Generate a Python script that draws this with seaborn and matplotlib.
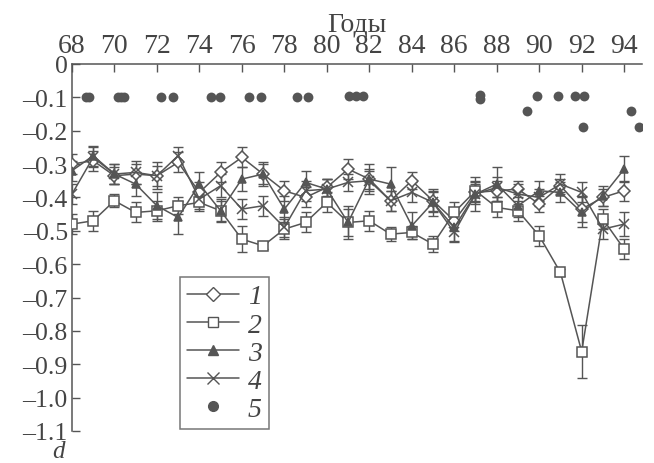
import numpy as np
import pandas as pd
import matplotlib
matplotlib.use("Agg")
import matplotlib.pyplot as plt
import seaborn as sns
from matplotlib.lines import Line2D

years = list(range(68, 95))
s1 = [-0.30, -0.29, -0.335, -0.33, -0.335, -0.295, -0.385, -0.325, -0.28, -0.33, -0.38, -0.40, -0.37, -0.315,
      -0.345, -0.41, -0.35, -0.41, -0.47, -0.385, -0.38, -0.375, -0.42, -0.365, -0.435, -0.40, -0.38]
s2 = [-0.48, -0.47, -0.41, -0.445, -0.44, -0.425, -0.415, -0.44, -0.525, -0.545, -0.495, -0.475, -0.415, -0.475,
      -0.47, -0.51, -0.505, -0.54, -0.445, -0.38, -0.43, -0.44, -0.515, -0.625, -0.862, -0.465, -0.555]
s3 = [-0.32, -0.275, -0.33, -0.36, -0.425, -0.46, -0.36, -0.44, -0.345, -0.33, -0.435, -0.355, -0.375, -0.475,
      -0.345, -0.36, -0.485, -0.415, -0.49, -0.39, -0.36, -0.425, -0.38, -0.385, -0.445, -0.395, -0.315]
s4 = [-0.39, -0.28, -0.33, -0.325, -0.335, -0.275, -0.405, -0.365, -0.435, -0.425, -0.49, -0.38, -0.375, -0.355,
      -0.35, -0.41, -0.385, -0.415, -0.505, -0.39, -0.37, -0.39, -0.40, -0.36, -0.385, -0.495, -0.48]
e1 = [0.03, 0.03, 0.025, 0.03, 0.03, 0.03, 0.03, 0.03, 0.03, 0.03, 0.03, 0.03, 0.025, 0.03,
      0.03, 0.03, 0.025, 0.03, 0.03, 0.03, 0.03, 0.025, 0.025, 0.02, 0.04, 0.025, 0.03]
e2 = [0.03, 0.03, 0.02, 0.03, 0.03, 0.025, 0.025, 0.03, 0.04, 0.01, 0.03, 0.03, 0.03, 0.04,
      0.03, 0.02, 0.02, 0.025, 0.03, 0.03, 0.03, 0.03, 0.03, 0.01, 0.08, 0.03, 0.03]
e3 = [0.03, 0.03, 0.03, 0.035, 0.04, 0.05, 0.035, 0.035, 0.035, 0.035, 0.04, 0.035, 0.03, 0.05,
      0.045, 0.05, 0.04, 0.04, 0.04, 0.05, 0.05, 0.035, 0.03, 0.03, 0.045, 0.03, 0.04]
e4 = [0.03, 0.03, 0.03, 0.035, 0.04, 0.025, 0.03, 0.035, 0.03, 0.03, 0.03, 0.03, 0.03, 0.025,
      0.03, 0.03, 0.03, 0.03, 0.03, 0.03, 0.03, 0.03, 0.025, 0.03, 0.03, 0.03, 0.035]
s5_x = [68.67, 68.8, 70.18, 70.32, 70.45, 72.2, 72.76, 74.55, 74.97, 76.33, 76.9, 78.59, 79.1,
        81.03, 81.36, 81.69, 87.2, 87.2, 89.43, 89.9, 90.89, 91.7, 92.12, 92.04, 94.33, 94.72]
s5_y = [-0.1, -0.1, -0.1, -0.1, -0.1, -0.1, -0.1, -0.1, -0.1, -0.1, -0.1, -0.1, -0.1,
        -0.097, -0.097, -0.097, -0.093, -0.105, -0.14, -0.095, -0.095, -0.095, -0.095, -0.19, -0.14, -0.19]
x_ticks = list(range(68, 95, 2))
y_ticks = [0, -0.1, -0.2, -0.3, -0.4, -0.5, -0.6, -0.7, -0.8, -0.9, -1.0, -1.1]
y_labels = ["0", "–0.1", "–0.2", "–0.3", "–0.4", "–0.5", "–0.6", "–0.7", "–0.8", "–0.9", "–1.0", "–1.1"]
legend_labels = ["1", "2", "3", "4", "5"]

sns.set_style("ticks")
SERIF = ["Liberation Serif", "DejaVu Serif"]
plt.rcParams["font.family"] = SERIF
GRAY = "#555555"
TXT = "#444444"

fig = plt.figure(figsize=(6.54, 4.64), dpi=100)
ax = fig.add_axes([0.110, 0.069, 0.872, 0.791])

series = [(s1, e1, "D", "white", 6), (s2, e2, "s", "white", 7), (s3, e3, "^", GRAY, 6), (s4, e4, "x", GRAY, 7)]
for vals, errs, mk, fc, ms in series:
    ax.errorbar(years, vals, yerr=errs, fmt="none", ecolor=GRAY, elinewidth=1.0, capsize=3.5, capthick=1.0, zorder=2)
    df = pd.DataFrame({"year": years, "v": vals})
    sns.lineplot(data=df, x="year", y="v", ax=ax, color=GRAY, linewidth=1.1, marker=mk,
                 markersize=ms, markerfacecolor=fc, markeredgecolor=GRAY, markeredgewidth=1.1, zorder=3)

df5 = pd.DataFrame({"x": s5_x, "y": s5_y})
sns.scatterplot(data=df5, x="x", y="y", ax=ax, color=GRAY, s=50, edgecolor=GRAY, linewidth=0, zorder=4)

ax.set_xlim(68, 94.85)
ax.set_ylim(-1.1, 0)
ax.xaxis.tick_top()
ax.xaxis.set_label_position("top")
ax.set_xticks(x_ticks)
ax.set_xticklabels([str(t) for t in x_ticks], fontsize=20, color=TXT, fontfamily=SERIF)
ax.set_yticks(y_ticks)
ax.set_yticklabels(y_labels, fontsize=18.5, color=TXT, fontfamily=SERIF)
ax.tick_params(axis="x", direction="in", length=6, width=1, color=GRAY, pad=4)
ax.tick_params(axis="y", direction="in", length=6, width=1, color=GRAY, pad=3)
ax.set_xlabel("Годы", fontsize=20, color=TXT, labelpad=2, fontfamily=SERIF)
ax.set_ylabel("")
for side in ["right", "bottom"]:
    ax.spines[side].set_visible(False)
for side in ["left", "top"]:
    ax.spines[side].set_color(GRAY)
    ax.spines[side].set_linewidth(1.1)

fig.text(58 / 654, 1 - 458 / 464, "d", fontsize=18, style="italic", color=TXT, ha="center", va="baseline",
         fontfamily=SERIF)

handles = [
    Line2D([], [], color=GRAY, lw=1.1, marker="D", markersize=7, markerfacecolor="white", markeredgecolor=GRAY),
    Line2D([], [], color=GRAY, lw=1.1, marker="s", markersize=7, markerfacecolor="white", markeredgecolor=GRAY),
    Line2D([], [], color=GRAY, lw=1.1, marker="^", markersize=7, markerfacecolor=GRAY, markeredgecolor=GRAY),
    Line2D([], [], color=GRAY, lw=1.1, marker="x", markersize=8, markeredgecolor=GRAY),
    Line2D([], [], color=GRAY, lw=0, marker="o", markersize=7, markerfacecolor=GRAY, markeredgecolor=GRAY),
]
leg = ax.legend(handles, legend_labels, loc="lower left", bbox_to_anchor=(0.189, 0.005), borderaxespad=0,
                frameon=True, fancybox=False, handlelength=1.9, handletextpad=0.3, labelspacing=0.1,
                borderpad=0.25, prop={"family": "Liberation Serif", "style": "italic", "size": 20})
leg.get_frame().set_edgecolor(GRAY)
leg.get_frame().set_linewidth(1.1)
for t in leg.get_texts():
    t.set_color(TXT)

fig.savefig("out.png", dpi=100, facecolor="white")
